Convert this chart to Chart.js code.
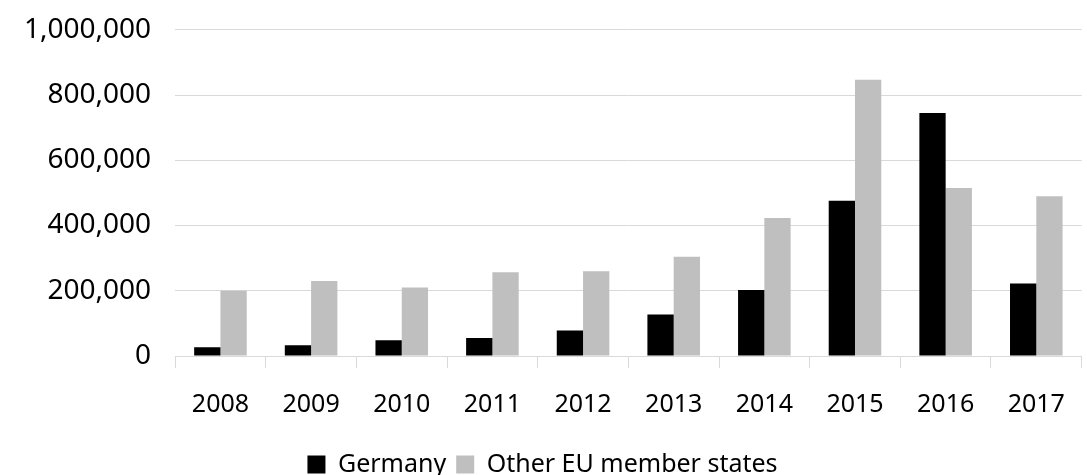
<!DOCTYPE html>
<html><head><meta charset="utf-8">
<script src="https://cdn.jsdelivr.net/npm/chart.js@4/dist/chart.umd.min.js"></script>
<style>html,body{margin:0;background:#fff;overflow:hidden;height:475px}#wrap{position:relative;top:-11px;width:1087px;height:498px}</style>
</head><body><div id="wrap"><canvas id="c"></canvas></div>
<script>
const years = ['2008','2009','2010','2011','2012','2013','2014','2015','2016','2017'];
const germany = [27000, 33000, 48000, 55000, 78000, 127000, 202000, 476000, 745000, 222000];
const otherEU = [200000, 230000, 210000, 257000, 260000, 304000, 423000, 847000, 515000, 490000];

Chart.defaults.font.family = "'Noto Sans', sans-serif";
Chart.defaults.font.size = 25;
Chart.defaults.color = '#000';

new Chart(document.getElementById('c'), {
  type: 'bar',
  data: {
    labels: years,
    datasets: [
      { label: 'Germany', data: germany, backgroundColor: '#000', categoryPercentage: 0.58, barPercentage: 1 },
      { label: 'Other EU member states', data: otherEU, backgroundColor: '#bfbfbf', categoryPercentage: 0.58, barPercentage: 1 }
    ]
  },
  options: {
    responsive: true, maintainAspectRatio: false, animation: false,
    layout: { padding: { left: 0, right: 2, top: 0, bottom: 0 } },
    plugins: {
      legend: { position: 'bottom', labels: { boxWidth: 18, boxHeight: 18, padding: 10, font: { size: 25 } } },
      tooltip: { enabled: false }
    },
    scales: {
      x: {
        grid: { display: true, drawOnChartArea: false, offset: true, color: '#d9d9d9', tickLength: 12 },
        border: { color: '#d9d9d9' },
        ticks: { padding: 22 }
      },
      y: {
        min: 0, max: 1000000,
        ticks: { stepSize: 200000, padding: 24, font: { size: 28 }, callback: v => v.toLocaleString('en-US') },
        grid: { color: '#d9d9d9', drawTicks: false },
        border: { display: false }
      }
    }
  }
});
</script></body></html>
